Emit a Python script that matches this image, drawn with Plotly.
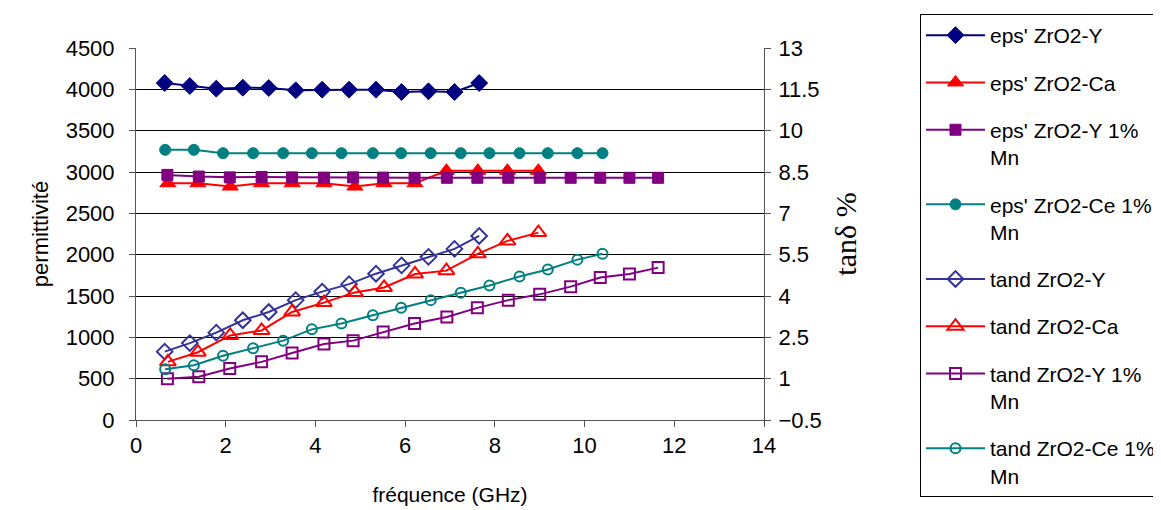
import plotly.graph_objects as go

# ---------------- data ----------------
freq_Y = [0.64, 1.20, 1.79, 2.38, 2.96, 3.56, 4.15, 4.75, 5.35, 5.92, 6.52, 7.10, 7.65]
freq_Ca = [0.71, 1.38, 2.10, 2.80, 3.48, 4.19, 4.88, 5.53, 6.22, 6.92, 7.62, 8.28, 8.97]
freq_YMn = [0.70, 1.40, 2.09, 2.80, 3.48, 4.19, 4.84, 5.51, 6.21, 6.93, 7.61, 8.30,
            9.00, 9.69, 10.35, 11.00, 11.64]
freq_CeMn = [0.65, 1.29, 1.94, 2.61, 3.28, 3.92, 4.58, 5.28, 5.91, 6.57, 7.24, 7.88,
             8.55, 9.18, 9.84, 10.40]

eps_Y = [4076, 4040, 4008, 4020, 4016, 3988, 3996, 3996, 3996, 3968, 3976, 3968, 4076]
eps_Ca = [2864, 2864, 2824, 2864, 2864, 2864, 2824, 2864, 2864, 3015, 3015, 3015, 3015]
eps_YMn = [2965, 2945, 2935, 2940, 2935, 2932, 2935, 2932, 2930, 2930, 2930, 2930,
           2930, 2930, 2930, 2930, 2930]
eps_CeMn = [3268, 3268, 3228, 3228, 3228, 3228, 3228, 3228, 3228, 3228, 3228, 3228,
            3228, 3228, 3228, 3228]

tand_Y = [1.98, 2.29, 2.67, 3.12, 3.42, 3.85, 4.16, 4.43, 4.81, 5.11, 5.42, 5.71, 6.18]
tand_Ca = [1.61, 1.96, 2.57, 2.75, 3.42, 3.76, 4.13, 4.31, 4.80, 4.92, 5.53, 6.00, 6.30]
tand_YMn = [1.00, 1.07, 1.37, 1.61, 1.93, 2.26, 2.38, 2.69, 3.00, 3.24, 3.57, 3.85,
            4.06, 4.34, 4.67, 4.80, 5.03]
tand_CeMn = [1.34, 1.49, 1.83, 2.10, 2.38, 2.79, 3.00, 3.30, 3.57, 3.85, 4.12, 4.38,
             4.71, 4.96, 5.32, 5.53]

names = ["eps' ZrO2-Y", "eps' ZrO2-Ca", "eps' ZrO2-Y 1%<br>Mn", "eps' ZrO2-Ce 1%<br>Mn",
         "tand ZrO2-Y", "tand ZrO2-Ca", "tand ZrO2-Y 1%<br>Mn", "tand ZrO2-Ce 1%<br>Mn"]

NAVY = "#000080"
RED = "#FF0000"
PURPLE = "#800080"
TEAL = "#008080"
INDIGO = "#333399"

FONT = "Liberation Sans, Arial, sans-serif"
SERIF = "Liberation Serif, Times New Roman, serif"

fig = go.Figure()

eps_specs = [
    (freq_Y, eps_Y, NAVY, "diamond", 13),
    (freq_Ca, eps_Ca, RED, "triangle-up", 14),
    (freq_YMn, eps_YMn, PURPLE, "square", 11),
    (freq_CeMn, eps_CeMn, TEAL, "circle", 11),
]
tand_specs = [
    (freq_Y, tand_Y, INDIGO, "diamond-open", 12),
    (freq_Ca, tand_Ca, RED, "triangle-up-open", 14),
    (freq_YMn, tand_YMn, PURPLE, "square-open", 11),
    (freq_CeMn, tand_CeMn, TEAL, "circle-open", 10),
]

for i, (xs, ys, col, sym, sz) in enumerate(eps_specs):
    fig.add_trace(go.Scatter(
        x=xs, y=ys, name=names[i], mode="lines+markers", yaxis="y",
        legendgroup=f"g{i}",
        line=dict(color=col, width=2),
        marker=dict(symbol=sym, size=sz, color=col, line=dict(color=col, width=1)),
    ))

for j, (xs, ys, col, sym, sz) in enumerate(tand_specs):
    fig.add_trace(go.Scatter(
        x=xs, y=ys, name=names[4 + j], mode="lines+markers", yaxis="y2",
        legendgroup=f"g{4 + j}",
        line=dict(color=col, width=2),
        marker=dict(symbol=sym, size=sz, color=col, line=dict(color=col, width=2)),
    ))

fig.update_layout(
    width=1161, height=510,
    margin=dict(l=128, r=405, t=40, b=98, autoexpand=False),
    paper_bgcolor="white", plot_bgcolor="white",
    font=dict(family=FONT, size=22, color="black"),
    xaxis=dict(
        range=[0, 14], tick0=0, dtick=2, showgrid=False, zeroline=False,
        showline=True, linecolor="#555555", linewidth=1,
        ticks="outside", ticklen=6, tickcolor="#555555",
        ticklabelstandoff=0,
        title=dict(text="fréquence (GHz)", standoff=29, font=dict(size=21)),
    ),
    yaxis=dict(
        range=[0, 4500], tick0=0, dtick=500, showgrid=True, gridcolor="black", gridwidth=1,
        zeroline=False, showline=True, linecolor="#555555", linewidth=1,
        ticks="outside", ticklen=6, tickcolor="#555555",
        ticklabelstandoff=10,
        title=dict(text="permittivité", standoff=10, font=dict(size=22)),
    ),
    yaxis2=dict(
        range=[-0.5, 13], tick0=-0.5, dtick=1.5, overlaying="y", side="right",
        showgrid=False, zeroline=False, showline=True, linecolor="#555555", linewidth=1,
        ticks="outside", ticklen=6, tickcolor="#555555",
        ticklabelstandoff=3,
        title=dict(text="tanδ %", standoff=14, font=dict(family=SERIF, size=30)),
    ),
    legend=dict(
        x=1.2484, xanchor="left", y=1.0914, yanchor="top",
        bgcolor="white", bordercolor="black", borderwidth=1,
        font=dict(family=FONT, size=21),
        tracegroupgap=17, valign="top", itemwidth=59,
        maxheight=505,
    ),
    showlegend=True,
)

fig.write_html("out.html")
